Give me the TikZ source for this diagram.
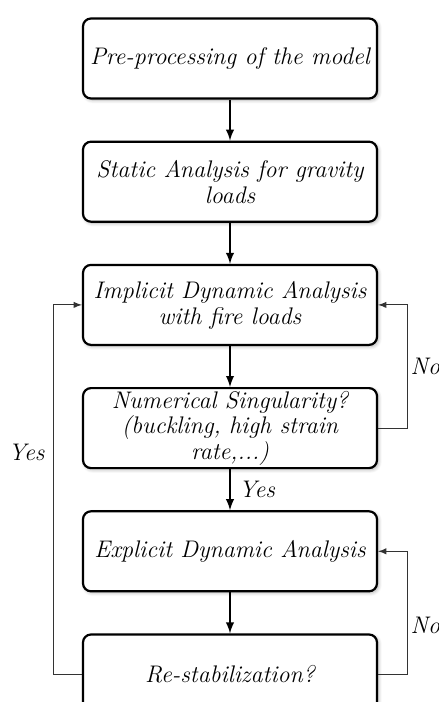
\documentclass[tikz,border=0pt]{standalone}
\usetikzlibrary{positioning,shadows.blur}
\begin{document}
\begin{tikzpicture}[node distance=20.5pt]
\tikzset{block/.style={draw,line width=1.1pt,rounded corners=4pt,fill=white,
                       minimum width=147pt,minimum height=40pt,align=center,
                       font=\fontsize{12}{13}\selectfont\itshape,inner sep=1pt,
                       blur shadow={shadow blur steps=6,shadow xshift=0.8pt,shadow yshift=-0.8pt,shadow opacity=30}},
         flow/.style={draw,line width=0.9pt,-latex},
         back/.style={draw,line width=0.45pt,black!80,-latex},
         lbl/.style={text=black,inner sep=1.5pt,font=\fontsize{12}{13}\selectfont\itshape}}
\useasboundingbox (0,0) rectangle (219.5pt,-351pt);
\node[block] (prep) at (115pt,-29.25pt) {Pre-processing of the model};
\node[block,below=of prep] (static) {Static Analysis for gravity\\loads};
\node[block,below=of static] (impl) {Implicit Dynamic Analysis\\with fire loads};
\node[block,below=of impl,font=\fontsize{12}{9.8}\selectfont\itshape] (sing) {Numerical Singularity?\\(buckling, high strain\\rate,...)};
\node[block,below=of sing] (expl) {Explicit Dynamic Analysis};
\node[block,below=of expl] (restab) {Re-stabilization?};
% main sequence
\path[flow] (prep) -- (static);
\path[flow] (static) -- (impl);
\path[flow] (impl) -- (sing);
\path[flow] (sing) -- node[lbl,right,inner sep=4pt] {Yes} (expl);
\path[flow] (expl) -- (restab);
% loops back
\path[back] (sing.east) -- ++(14.5pt,0) |- node[lbl,right,pos=0.25] {No} (impl.east);
\path[back] (restab.east) -- ++(14.5pt,0) |- node[lbl,right,pos=0.2] {No} (expl.east);
\path[back] (restab.west) -- ++(-14pt,0) |- node[lbl,left,pos=0.3,inner sep=4.5pt] {Yes} (impl.west);
\end{tikzpicture}
\end{document}
